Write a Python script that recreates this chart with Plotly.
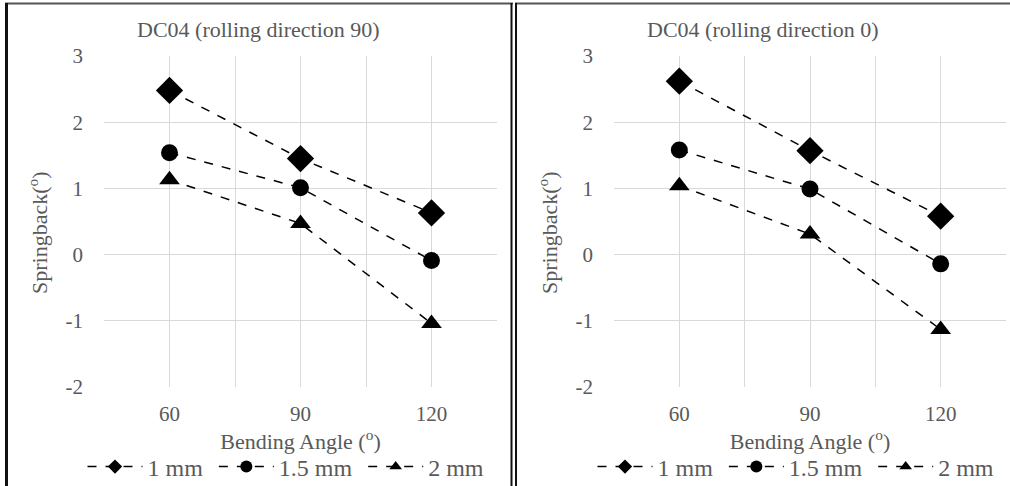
import plotly.graph_objects as go

angles = [60, 90, 120]
series_names = ["1 mm", "1.5 mm", "2 mm"]
rd90_1mm = [2.48, 1.45, 0.63]
rd90_15mm = [1.54, 1.01, -0.09]
rd90_2mm = [1.13, 0.47, -1.04]
rd0_1mm = [2.62, 1.57, 0.58]
rd0_15mm = [1.58, 0.99, -0.14]
rd0_2mm = [1.04, 0.31, -1.13]
titles = ["DC04 (rolling direction 90)", "DC04 (rolling direction 0)"]
y_title = "Springback(<sup>o</sup>)"
x_title = "Bending Angle (<sup>o</sup>)"
x_tickvals = [45, 60, 75, 90, 105, 120, 135]
x_ticktext = ["", "60", "", "90", "", "120", ""]
y_tickvals = [-2, -1, 0, 1, 2, 3]
y_ticktext = ["-2", "-1", "0", "1", "2", "3"]

FONT = "Liberation Serif"
GRAY = "#595959"
W, H = 1010, 486

symbols = ["diamond", "circle", "triangle-up"]
sizes = [21, 17, 18]
legend_sizes = [11, 12, 11]

fig = go.Figure()
panels = [
    ([rd90_1mm, rd90_15mm, rd90_2mm], "x", "y", "legend"),
    ([rd0_1mm, rd0_15mm, rd0_2mm], "x2", "y2", "legend2"),
]
for vals, xa, ya, lg in panels:
    for name, v, sym, sz, lsz in zip(series_names, vals, symbols, sizes, legend_sizes):
        fig.add_trace(go.Scatter(
            x=angles, y=v, name=name, mode="lines+markers",
            line=dict(color="black", dash="dash", width=1.5),
            marker=dict(symbol=sym, size=sz, color="black"),
            xaxis=xa, yaxis=ya, showlegend=False,
        ))
        # legend entry (small marker like the reference)
        fig.add_trace(go.Scatter(
            x=[None], y=[None], name=name + "\u00a0", mode="lines+markers",
            line=dict(color="black", dash="dash", width=1.5),
            marker=dict(symbol=sym, size=lsz, color="black"),
            xaxis=xa, yaxis=ya, legend=lg, showlegend=True,
        ))

def px_x(p):
    return p / W

def px_y(p):
    return 1 - p / H

ydom = [px_y(387), px_y(56)]
xdoms = [[px_x(104), px_x(497)], [px_x(614), px_x(1006)]]

axis_common_x = dict(
    range=[45, 135], tickvals=x_tickvals, ticktext=x_ticktext,
    showgrid=True, gridcolor="#d9d9d9", gridwidth=1, zeroline=False,
    showline=False, ticks="", ticklabelstandoff=12, automargin=False,
    tickfont=dict(family=FONT, size=21, color=GRAY),
    title=dict(text=x_title, font=dict(family=FONT, size=22, color=GRAY), standoff=0),
    fixedrange=True,
)
axis_common_y = dict(
    range=[-2, 3], tickvals=y_tickvals, ticktext=y_ticktext,
    showgrid=True, gridcolor="#d9d9d9", gridwidth=1, zeroline=False,
    showline=False, ticks="", ticklabelstandoff=20, automargin=False,
    tickfont=dict(family=FONT, size=21, color=GRAY),
    fixedrange=True,
)

legend_common = dict(
    orientation="h", xanchor="center", yanchor="middle", y=px_y(467),
    font=dict(family=FONT, size=24, color=GRAY), bgcolor="rgba(0,0,0,0)",
    itemwidth=55, tracegroupgap=0, itemsizing="trace",
)

title_font = dict(family=FONT, size=22, color=GRAY)

fig.update_layout(
    width=W, height=H,
    margin=dict(l=0, r=0, t=0, b=0, autoexpand=False),
    paper_bgcolor="white", plot_bgcolor="white",
    xaxis=dict(domain=xdoms[0], anchor="y", **axis_common_x),
    yaxis=dict(domain=ydom, anchor="x", **axis_common_y),
    xaxis2=dict(domain=xdoms[1], anchor="y2", **axis_common_x),
    yaxis2=dict(domain=ydom, anchor="x2", **axis_common_y),
    legend=dict(x=px_x(289), **legend_common),
    legend2=dict(x=px_x(799), **legend_common),
    annotations=[
        dict(text=titles[0], x=px_x(258), y=px_y(29), xref="paper", yref="paper",
             xanchor="center", yanchor="middle", showarrow=False, font=title_font),
        dict(text=titles[1], x=px_x(763), y=px_y(29), xref="paper", yref="paper",
             xanchor="center", yanchor="middle", showarrow=False, font=title_font),
        dict(text=y_title, x=px_x(38), y=px_y(233), xref="paper", yref="paper",
             xanchor="center", yanchor="middle", textangle=-90, showarrow=False, font=title_font),
        dict(text=y_title, x=px_x(548), y=px_y(233), xref="paper", yref="paper",
             xanchor="center", yanchor="middle", textangle=-90, showarrow=False, font=title_font),
    ],
    shapes=[
        dict(type="line", xref="paper", yref="paper", x0=px_x(5), x1=px_x(513), y0=px_y(3.5), y1=px_y(3.5),
             line=dict(color="#555555", width=2)),
        dict(type="line", xref="paper", yref="paper", x0=px_x(515), x1=1, y0=px_y(3.5), y1=px_y(3.5),
             line=dict(color="#555555", width=2)),
        dict(type="line", xref="paper", yref="paper", x0=px_x(6.5), x1=px_x(6.5), y0=0, y1=px_y(3),
             line=dict(color="#111111", width=3)),
        dict(type="line", xref="paper", yref="paper", x0=px_x(511.5), x1=px_x(511.5), y0=0, y1=px_y(3),
             line=dict(color="#111111", width=2)),
        dict(type="line", xref="paper", yref="paper", x0=px_x(516), x1=px_x(516), y0=0, y1=px_y(3),
             line=dict(color="#111111", width=2)),
    ],
)

fig.write_html(
    "out.html",
    config={"displayModeBar": False},
    post_script="document.body.style.margin='0';document.body.style.overflow='hidden';",
)
